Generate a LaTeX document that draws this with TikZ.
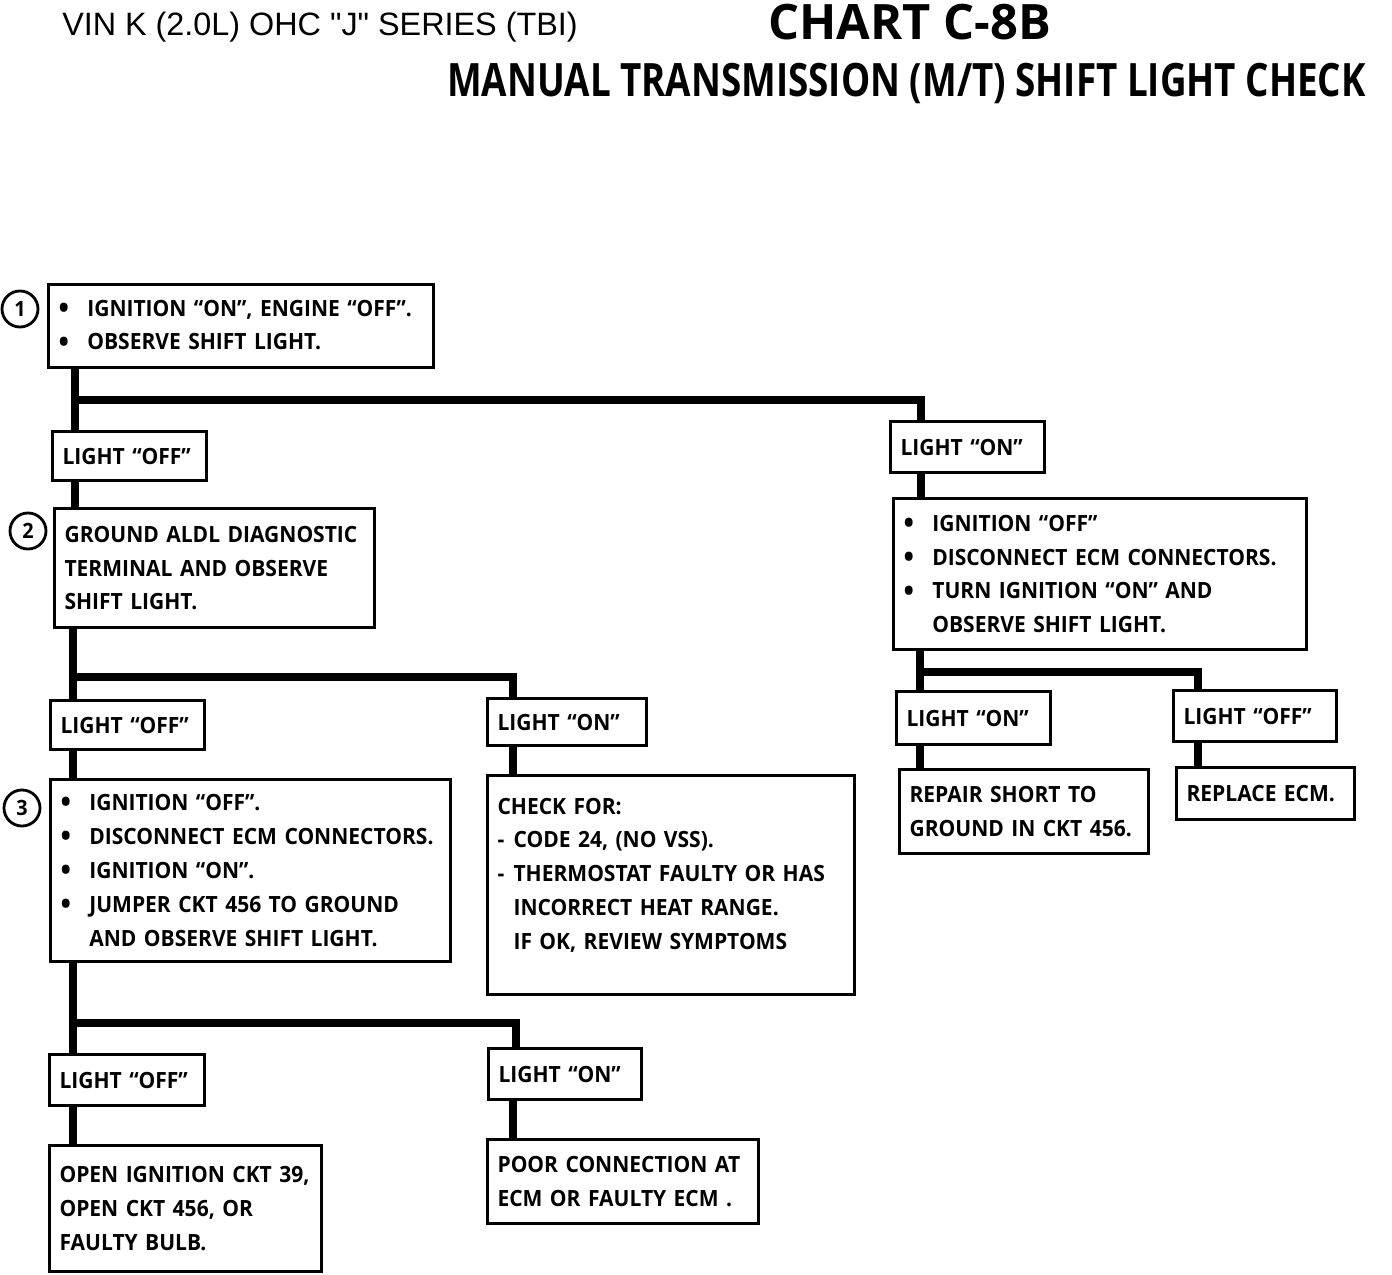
\documentclass[tikz,border=0pt]{standalone}
\usepackage{fontspec}
\setmainfont{Open Sans}
\newfontfamily\boxfamily{Open Sans}[FakeStretch=0.94]
\newfontfamily\titlefamily{Open Sans}[FakeStretch=0.80]
\newfontfamily\vinfamily{Liberation Sans}
\usetikzlibrary{positioning}
\newcommand{\itm}{\makebox[0.72cm][l]{\raisebox{-0.1em}{\fontsize{21}{21}\selectfont\textbullet}}}
\newcommand{\cnt}{\hspace*{0.72cm}}
\newcommand{\dsh}{\makebox[0.4cm][l]{-}}
\newcommand{\dcn}{\hspace*{0.4cm}}

\begin{document}
\begin{tikzpicture}[
  x=0.025cm, y=-0.025cm,
  stepbox/.style={draw, line width=2.2pt, anchor=north west, align=left,
    inner xsep=0.25cm, inner ysep=0pt,
    font=\boxfamily\bfseries\fontsize{15.9}{24.1}\selectfont},
  tag/.style={draw, circle, line width=2pt, minimum size=0.9cm, inner sep=0pt,
    font=\boxfamily\bfseries\fontsize{15}{15}\selectfont},
  trunk/.style={line width=5.2pt}
]
  \useasboundingbox (0,0) rectangle (1392,1274);

  % header
  \node[anchor=west, inner sep=0pt, font=\vinfamily\fontsize{23}{23}\selectfont] (vin) at (62,27)
    {VIN K (2.0L) OHC "J" SERIES (TBI)};
  \node[anchor=base west, inner sep=0pt, font=\bfseries\fontsize{34.7}{35}\selectfont]
    (chart) at (768,40) {CHART C-8B};
  \node[anchor=base west, inner sep=0pt, font=\titlefamily\bfseries\fontsize{32.7}{33}\selectfont]
    (title) at (447,97) {MANUAL TRANSMISSION (M/T) SHIFT LIGHT CHECK};

  % left column
  \node[stepbox, text width=9.125cm, minimum height=2.075cm] (step1) at (47,283)
    {\itm IGNITION “ON”, ENGINE “OFF”.\\ \itm OBSERVE SHIFT LIGHT.};
  \node[stepbox, text width=3.35cm, minimum height=1.225cm] (off1) at (51,430) {LIGHT “OFF”};
  \node[stepbox, text width=7.5cm, minimum height=2.975cm] (step2) at (53,507)
    {GROUND ALDL DIAGNOSTIC\\ TERMINAL AND OBSERVE\\ SHIFT LIGHT.};
  \node[stepbox, text width=3.35cm, minimum height=1.225cm] (off2) at (49,699) {LIGHT “OFF”};
  \node[stepbox, text width=3.475cm, minimum height=1.175cm] (on2) at (486,697) {LIGHT “ON”};
  \node[stepbox, text width=9.5cm, minimum height=4.55cm] (step3) at (49,778)
    {\itm IGNITION “OFF”.\\ \itm DISCONNECT ECM CONNECTORS.\\ \itm IGNITION “ON”.\\
     \itm JUMPER CKT 456 TO GROUND\\ \cnt AND OBSERVE SHIFT LIGHT.};
  \node[stepbox, text width=8.675cm, minimum height=5.475cm] (check) at (486,774)
    {CHECK FOR:\\ \dsh CODE 24, (NO VSS).\\ \dsh THERMOSTAT FAULTY OR HAS\\
     \dcn INCORRECT HEAT RANGE.\\ \dcn IF OK, REVIEW SYMPTOMS\\[-8pt] \mbox{}};
  \node[stepbox, text width=3.375cm, minimum height=1.275cm] (off3) at (48,1053) {LIGHT “OFF”};
  \node[stepbox, text width=3.325cm, minimum height=1.275cm] (on3) at (487,1047) {LIGHT “ON”};
  \node[stepbox, text width=6.3cm, minimum height=3.15cm] (openckt) at (48,1144)
    {OPEN IGNITION CKT 39,\\ OPEN CKT 456, OR\\ FAULTY BULB.};
  \node[stepbox, text width=6.275cm, minimum height=2.1cm] (poor) at (486,1138)
    {POOR CONNECTION AT\\ ECM OR FAULTY ECM .};

  % right column
  \node[stepbox, text width=3.35cm, minimum height=1.275cm] (onR) at (889,420) {LIGHT “ON”};
  \node[stepbox, text width=9.825cm, minimum height=3.775cm] (stepR) at (892,497)
    {\itm IGNITION “OFF”\\ \itm DISCONNECT ECM CONNECTORS.\\ \itm TURN IGNITION “ON” AND\\
     \cnt OBSERVE SHIFT LIGHT.};
  \node[stepbox, text width=3.35cm, minimum height=1.325cm] (onR2) at (895,690) {LIGHT “ON”};
  \node[stepbox, text width=3.575cm, minimum height=1.275cm] (offR2) at (1172,689) {LIGHT “OFF”};
  \node[stepbox, text width=5.725cm, minimum height=2.1cm] (short) at (898,768)
    {REPAIR SHORT TO\\ GROUND IN CKT 456.};
  \node[stepbox, text width=3.95cm, minimum height=1.3cm] (ecm) at (1175,766) {REPLACE ECM.};

  % step numbers
  \node[tag] (n1) at (20,309) {1};
  \node[tag] (n2) at (28,531) {2};
  \node[tag] (n3) at (22,808) {3};

  % branch points
  \coordinate (j1) at (75,400);  \coordinate (k1) at (921,400);
  \coordinate (j2) at (73,677);  \coordinate (k2) at (513,677);
  \coordinate (j3) at (73,1023); \coordinate (k3) at (516,1023);
  \coordinate (jR) at (920,672); \coordinate (kR) at (1198,672);

  \draw[trunk] (step1.south -| j1) -- (off1.north -| j1);
  \draw[trunk] (j1) -- (k1) -- (onR.north -| k1);
  \draw[trunk] (off1.south -| j1) -- (step2.north -| j1);
  \draw[trunk] (onR.south -| k1) -- (stepR.north -| k1);

  \draw[trunk] (step2.south -| j2) -- (off2.north -| j2);
  \draw[trunk] (j2) -- (k2) -- (on2.north -| k2);
  \draw[trunk] (off2.south -| j2) -- (step3.north -| j2);
  \draw[trunk] (on2.south -| k2) -- (check.north -| k2);

  \draw[trunk] (step3.south -| j3) -- (off3.north -| j3);
  \draw[trunk] (j3) -- (k3) -- (on3.north -| k3);
  \draw[trunk] (off3.south -| j3) -- (openckt.north -| j3);
  \draw[trunk] (on3.south -| k2) -- (poor.north -| k2);

  \draw[trunk] (stepR.south -| jR) -- (onR2.north -| jR);
  \draw[trunk] (jR) -- (kR) -- (offR2.north -| kR);
  \draw[trunk] (onR2.south -| jR) -- (short.north -| jR);
  \draw[trunk] (offR2.south -| kR) -- (ecm.north -| kR);
\end{tikzpicture}
\end{document}
